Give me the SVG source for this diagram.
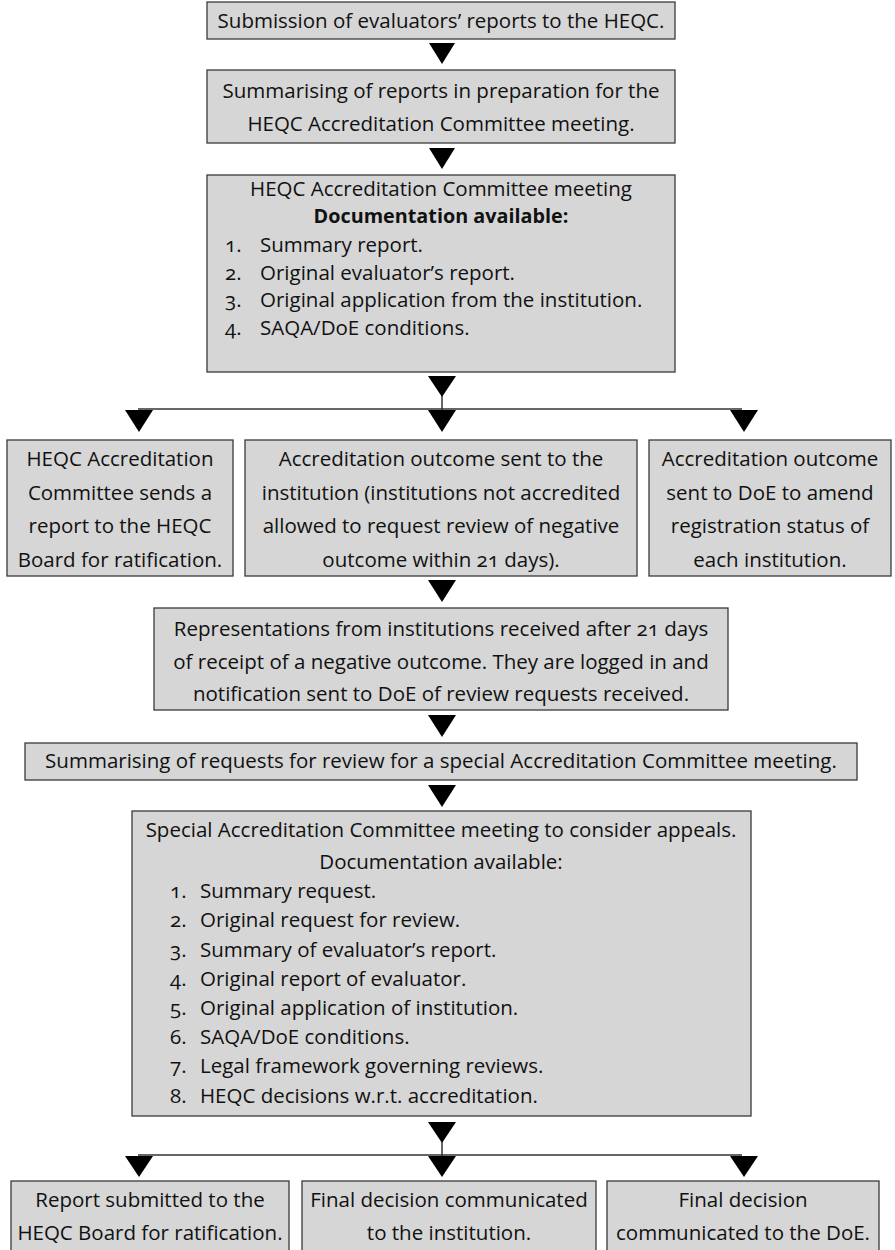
<svg xmlns="http://www.w3.org/2000/svg" width="895" height="1250" viewBox="0 0 895 1250">
<style>
.box{fill:#d6d6d6;stroke:#3a3a3a;stroke-width:1.3}
text{font-family:"Open Sans","Noto Sans","DejaVu Sans",sans-serif;font-size:20.5px;fill:#111;font-variant-numeric:oldstyle-nums}
.c{text-anchor:middle}
.b{font-weight:bold;font-size:19.8px}
.ln{stroke:#333;stroke-width:1.5;fill:none}
.tri{fill:#000}
</style>
<rect width="895" height="1250" fill="#fff"/>
<g id="connectors">
<polygon class="tri" points="429,43 455,43 442,64"/>
<polygon class="tri" points="429,148 455,148 442,169"/>
<polygon class="tri" points="428,376 456,376 442,397"/>
<line class="ln" x1="442" y1="396" x2="442" y2="410"/>
<line class="ln" x1="138" y1="409" x2="742" y2="409"/>
<polygon class="tri" points="125,410 153,410 139,432"/>
<polygon class="tri" points="428,410 456,410 442,432"/>
<polygon class="tri" points="730,410 758,410 744,432"/>
<polygon class="tri" points="428,580 456,580 442,602"/>
<polygon class="tri" points="428,715 456,715 442,737"/>
<polygon class="tri" points="428,785 456,785 442,807"/>
<polygon class="tri" points="428,1122 456,1122 442,1143"/>
<line class="ln" x1="442" y1="1142" x2="442" y2="1156"/>
<line class="ln" x1="138" y1="1155" x2="742" y2="1155"/>
<polygon class="tri" points="125,1156 153,1156 139,1177"/>
<polygon class="tri" points="428,1156 456,1156 442,1177"/>
<polygon class="tri" points="730,1156 758,1156 744,1177"/>
</g>
<g id="n1"><rect class="box" x="207" y="2" width="468" height="37"/>
<text class="c" x="441" y="28">Submission of evaluators’ reports to the HEQC.</text></g>
<g id="n2"><rect class="box" x="207" y="70" width="468" height="73"/>
<text class="c" x="441" y="98">Summarising of reports in preparation for the</text>
<text class="c" x="441" y="131">HEQC Accreditation Committee meeting.</text></g>
<g id="n3"><rect class="box" x="207" y="175" width="468" height="197"/>
<text class="c" x="441" y="196">HEQC Accreditation Committee meeting</text>
<text class="c b" x="441" y="223">Documentation available:</text>
<text x="225" y="252">1.</text><text x="260" y="252">Summary report.</text>
<text x="225" y="280">2.</text><text x="260" y="280">Original evaluator’s report.</text>
<text x="225" y="307">3.</text><text x="260" y="307">Original application from the institution.</text>
<text x="225" y="335">4.</text><text x="260" y="335">SAQA/DoE conditions.</text></g>
<g id="n4"><rect class="box" x="7" y="440" width="226" height="136"/>
<text class="c" x="120" y="466">HEQC Accreditation</text>
<text class="c" x="120" y="500">Committee sends a</text>
<text class="c" x="120" y="533">report to the HEQC</text>
<text class="c" x="120" y="567">Board for ratification.</text></g>
<g id="n5"><rect class="box" x="245" y="440" width="392" height="136"/>
<text class="c" x="441" y="466">Accreditation outcome sent to the</text>
<text class="c" x="441" y="500">institution (institutions not accredited</text>
<text class="c" x="441" y="533">allowed to request review of negative</text>
<text class="c" x="441" y="567">outcome within 21 days).</text></g>
<g id="n6"><rect class="box" x="649" y="440" width="242" height="136"/>
<text class="c" x="770" y="466">Accreditation outcome</text>
<text class="c" x="770" y="500">sent to DoE to amend</text>
<text class="c" x="770" y="533">registration status of</text>
<text class="c" x="770" y="567">each institution.</text></g>
<g id="n7"><rect class="box" x="154" y="608" width="574" height="102"/>
<text class="c" x="441" y="636">Representations from institutions received after 21 days</text>
<text class="c" x="441" y="669">of receipt of a negative outcome. They are logged in and</text>
<text class="c" x="441" y="701">notification sent to DoE of review requests received.</text></g>
<g id="n8"><rect class="box" x="25" y="743" width="832" height="37"/>
<text class="c" x="441" y="768">Summarising of requests for review for a special Accreditation Committee meeting.</text></g>
<g id="n9"><rect class="box" x="132" y="811" width="619" height="305"/>
<text class="c" x="441" y="837">Special Accreditation Committee meeting to consider appeals.</text>
<text class="c" x="441" y="869">Documentation available:</text>
<text x="170" y="898">1.</text><text x="200" y="898">Summary request.</text>
<text x="170" y="927">2.</text><text x="200" y="927">Original request for review.</text>
<text x="170" y="957">3.</text><text x="200" y="957">Summary of evaluator’s report.</text>
<text x="170" y="986">4.</text><text x="200" y="986">Original report of evaluator.</text>
<text x="170" y="1015">5.</text><text x="200" y="1015">Original application of institution.</text>
<text x="170" y="1044">6.</text><text x="200" y="1044">SAQA/DoE conditions.</text>
<text x="170" y="1073">7.</text><text x="200" y="1073">Legal framework governing reviews.</text>
<text x="170" y="1103">8.</text><text x="200" y="1103">HEQC decisions w.r.t. accreditation.</text></g>
<g id="n10"><rect class="box" x="11" y="1181" width="278" height="75"/>
<text class="c" x="150" y="1207">Report submitted to the</text>
<text class="c" x="150" y="1240">HEQC Board for ratification.</text></g>
<g id="n11"><rect class="box" x="302" y="1181" width="294" height="75"/>
<text class="c" x="449" y="1207">Final decision communicated</text>
<text class="c" x="449" y="1240">to the institution.</text></g>
<g id="n12"><rect class="box" x="607" y="1181" width="272" height="75"/>
<text class="c" x="743" y="1207">Final decision</text>
<text class="c" x="743" y="1240">communicated to the DoE.</text></g>
</svg>
